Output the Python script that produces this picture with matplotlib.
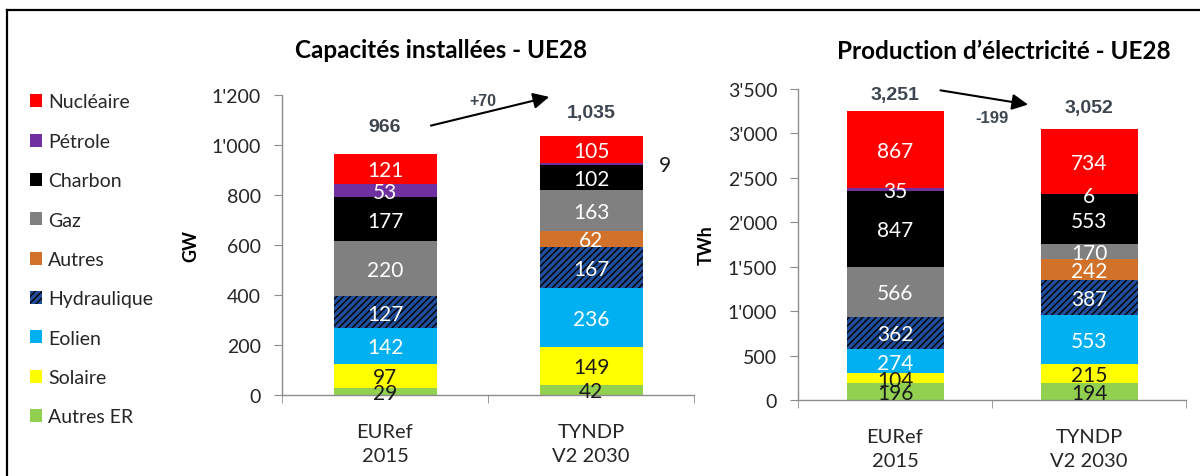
import numpy as np
import matplotlib
matplotlib.use("Agg")
import matplotlib.pyplot as plt
from matplotlib.ticker import FuncFormatter, FixedLocator
from matplotlib.lines import Line2D

plt.rcParams['font.family'] = ['Lato', 'DejaVu Sans']

scenarios = ["EURef\n2015", "TYNDP\nV2 2030"]
sources = ["Autres ER", "Solaire", "Eolien", "Hydraulique", "Autres",
           "Gaz", "Charbon", "Pétrole", "Nucléaire"]

# capacities (GW), bottom -> top
cap_euref = [29, 97, 142, 127, 0, 220, 177, 53, 121]
cap_tyndp = [42, 149, 236, 167, 62, 163, 102, 9, 105]
cap_totals = ["966", "1,035"]
cap_delta = "+70"

# production (TWh), bottom -> top
prod_euref = [196, 104, 274, 362, 0, 566, 847, 35, 867]
prod_tyndp = [194, 215, 553, 387, 242, 170, 553, 6, 734]
prod_totals = ["3,251", "3,052"]
prod_delta = "-199"

colors = ["#92D050", "#FFFF00", "#00B0F0", "#1F4E9A", "#D2722A",
          "#808080", "#000000", "#7030A0", "#FF0000"]
label_colors = ["#1a1a1a", "#1a1a1a", "white", "white", "white",
                "white", "white", "white", "white"]

fig = plt.figure(figsize=(12, 4.77), dpi=100)

# outer frame (left + top edges visible)
fig.add_artist(Line2D([7/1200, 7/1200], [0, 1 - 11/477], transform=fig.transFigure, color="black", lw=1.6))
fig.add_artist(Line2D([7/1200, 1], [1 - 11/477, 1 - 11/477], transform=fig.transFigure, color="black", lw=1.6))

axis_grey = "#8c8c8c"
total_col = "#3d4650"


def thousands(v, pos):
    return "{:,.0f}".format(v).replace(",", "'")


def draw_panel(ax, data, ymax, ystep, title, ylabel, tx, ty, outside_idx=None):
    x = np.arange(len(scenarios))
    handles = []
    for s, name in enumerate(sources):
        vals = np.array([d[s] for d in data], dtype=float)
        bottoms = np.array([sum(d[:s]) for d in data], dtype=float)
        if name == "Hydraulique":
            b = ax.bar(x, vals, 0.5, bottom=bottoms, color=colors[s], hatch="/////",
                       edgecolor="black", linewidth=0, label=name)
        else:
            b = ax.bar(x, vals, 0.5, bottom=bottoms, color=colors[s], linewidth=0, label=name)
        handles.append(b)
        for i in range(len(x)):
            if vals[i] == 0:
                continue
            yc = bottoms[i] + vals[i] / 2
            if outside_idx is not None and (s, i) == outside_idx:
                ax.text(x[i] + 0.33, yc - ymax * 0.005, "%d" % vals[i], ha="left", va="center",
                        fontsize=15, color="#1a1a1a")
            else:
                ax.text(x[i], yc - ymax * 0.005, "%d" % vals[i], ha="center", va="center",
                        fontsize=15, color=label_colors[s])

    ax.set_xlim(-0.5, 1.5)
    ax.set_ylim(0, ymax)
    ax.yaxis.set_major_locator(FixedLocator(np.arange(0, ymax + 1, ystep)))
    ax.yaxis.set_major_formatter(FuncFormatter(thousands))
    ax.set_xticks(x)
    ax.set_xticklabels(scenarios, fontsize=14.5, color="#262626", linespacing=1.5)
    ax.xaxis.set_minor_locator(FixedLocator([-0.5, 0.5, 1.5]))
    ax.tick_params(axis="x", which="major", length=0, pad=20)
    ax.tick_params(axis="x", which="minor", length=6, color=axis_grey, direction="out")
    ax.tick_params(axis="y", length=6, color=axis_grey, labelsize=14, labelcolor="#262626", pad=9)
    for side in ["top", "right"]:
        ax.spines[side].set_visible(False)
    for side in ["left", "bottom"]:
        ax.spines[side].set_color(axis_grey)
        ax.spines[side].set_linewidth(1.0)
    ax.set_ylabel(ylabel, fontsize=13, fontweight="bold", labelpad=9)
    ax.set_title(title, fontsize=17.5, fontweight="bold", pad=0, x=tx, y=ty)
    return handles


ax1 = fig.add_axes([282/1200, 81/477, 412/1200, 300/477])
handles = draw_panel(ax1, [cap_euref, cap_tyndp], 1200, 200,
                     "Capacités installées - UE28", "GW", 0.385, 1.125, outside_idx=(7, 1))
ax1.text(0, 1075, cap_totals[0], ha="center", va="center", fontsize=14, fontweight="bold",
         color=total_col, family="Liberation Sans")
ax1.text(1, 1130, cap_totals[1], ha="center", va="center", fontsize=14, fontweight="bold",
         color=total_col, family="Liberation Sans")
ax1.annotate("", xy=(0.81, 1195), xytext=(0.21, 1075),
             arrowprops=dict(arrowstyle="-|>", color="black", lw=1.5, mutation_scale=24),
             annotation_clip=False)
ax1.text(0.475, 1180, cap_delta, ha="center", va="center", fontsize=11.5, fontweight="bold",
         color=total_col, family="Liberation Sans")

ax2 = fig.add_axes([798/1200, 76/477, 388/1200, 311/477])
draw_panel(ax2, [prod_euref, prod_tyndp], 3500, 500,
           "Production d\u2019électricité - UE28", "TWh", 0.53, 1.1)
ax2.text(0, 3440, prod_totals[0], ha="center", va="center", fontsize=14, fontweight="bold",
         color=total_col, family="Liberation Sans")
ax2.text(1, 3290, prod_totals[1], ha="center", va="center", fontsize=14, fontweight="bold",
         color=total_col, family="Liberation Sans")
ax2.annotate("", xy=(0.7, 3320), xytext=(0.22, 3490),
             arrowprops=dict(arrowstyle="-|>", color="black", lw=1.5, mutation_scale=24),
             annotation_clip=False)
ax2.text(0.5, 3180, prod_delta, ha="center", va="center", fontsize=12, fontweight="bold",
         color=total_col, family="Liberation Sans")

leg = fig.legend(handles[::-1], sources[::-1], loc="upper left",
                 bbox_to_anchor=(12/1200, 1 - 77/477), frameon=False, fontsize=14,
                 handlelength=0.65, handleheight=0.65, handletextpad=0.3,
                 labelspacing=1.15, labelcolor="#262626")

fig.savefig("out.png", dpi=100)
